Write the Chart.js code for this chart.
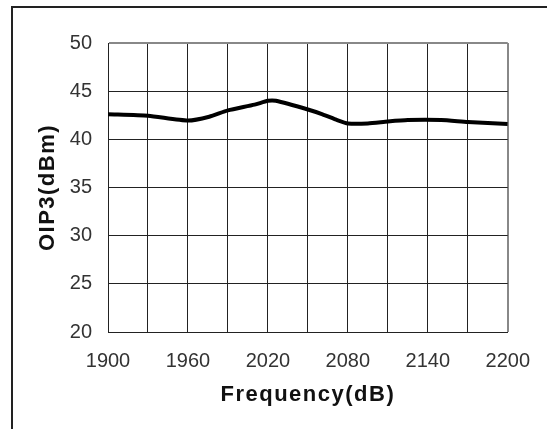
<!DOCTYPE html>
<html>
<head>
<meta charset="utf-8">
<script src="https://cdn.jsdelivr.net/npm/chart.js@4/dist/chart.umd.min.js"></script>
<style>
  html, body { margin: 0; padding: 0; background: #fff; overflow: hidden; }
  #wrap { position: relative; width: 547px; height: 429px; }
  #frame { position: absolute; left: 11px; top: 6px; right: 0; bottom: 0;
           border-left: 2px solid #222; border-top: 2px solid #222; }
  canvas { position: absolute; left: 0; top: 0; }
</style>
</head>
<body>
<div id="wrap">
  <div id="frame"></div>
  <canvas id="chart" width="547" height="429"></canvas>
</div>
<script>
// Data
const freqs = [1900, 1930, 1960, 1976, 1990, 2010, 2020, 2026, 2050, 2061, 2072, 2080, 2095, 2110, 2125, 2150, 2170, 2200];
const oip3 = [42.6, 42.45, 41.95, 42.35, 43.0, 43.6, 44.0, 44.0, 43.1, 42.6, 42.0, 41.65, 41.65, 41.85, 42.0, 42.0, 41.8, 41.6];
const xTickLabels = [1900, 1960, 2020, 2080, 2140, 2200];
const yTickLabels = [20, 25, 30, 35, 40, 45, 50];
const xTitle = 'Frequency(dB)';
const yTitle = 'OIP3(dBm)';

// Axis titles drawn with letter spacing (Chart.js has no option for it)
const axisTitles = {
    id: 'axisTitles',
    afterDraw(chart) {
        const ctx = chart.ctx;
        const area = chart.chartArea;
        ctx.save();
        ctx.fillStyle = '#111';
        ctx.font = 'bold 22px "Liberation Sans", Arial, sans-serif';
        ctx.letterSpacing = '1.5px';
        ctx.textAlign = 'center';
        ctx.textBaseline = 'middle';
        ctx.fillText(xTitle, (area.left + area.right) / 2, 395);
        ctx.translate(48, (area.top + area.bottom) / 2);
        ctx.rotate(-Math.PI / 2);
        ctx.fillText(yTitle, 0, 0);
        ctx.restore();
    }
};

const points = freqs.map((f, i) => ({ x: f, y: oip3[i] }));

new Chart(document.getElementById('chart'), {
    type: 'line',
    data: {
        datasets: [{
            data: points,
            borderColor: '#000',
            borderWidth: 4,
            pointRadius: 0,
            tension: 0.2,
            fill: false
        }]
    },
    options: {
        responsive: false,
        animation: false,
        layout: { padding: { left: 0, right: 33, top: 43, bottom: 0 } },
        plugins: { legend: { display: false }, tooltip: { enabled: false } },
        scales: {
            x: {
                type: 'linear',
                min: 1900,
                max: 2200,
                afterFit: (scale) => { scale.height = 97; },
                grid: {
                    drawTicks: false,
                    color: (c) => c.tick && c.tick.value === 2200 ? '#888' : '#222',
                    lineWidth: (c) => c.tick && c.tick.value === 2200 ? 2 : 1
                },
                border: { color: '#222', width: 1 },
                ticks: {
                    stepSize: 30,
                    padding: 17,
                    maxRotation: 0,
                    autoSkip: false,
                    color: '#333',
                    font: { family: '"Liberation Sans", Arial, sans-serif', size: 20 },
                    callback: (v) => xTickLabels.includes(v) ? String(v) : ''
                }
            },
            y: {
                min: 20,
                max: 50,
                afterFit: (scale) => { scale.width = 108; },
                grid: {
                    drawTicks: false,
                    color: (c) => c.tick && c.tick.value === 50 ? '#888' : '#222',
                    lineWidth: (c) => c.tick && c.tick.value === 50 ? 2 : 1
                },
                border: { color: '#222', width: 1 },
                ticks: {
                    stepSize: 5,
                    padding: 16,
                    color: '#333',
                    font: { family: '"Liberation Sans", Arial, sans-serif', size: 20 },
                    callback: (v) => yTickLabels.includes(v) ? String(v) : ''
                }
            }
        }
    },
    plugins: [axisTitles]
});
</script>
</body>
</html>
